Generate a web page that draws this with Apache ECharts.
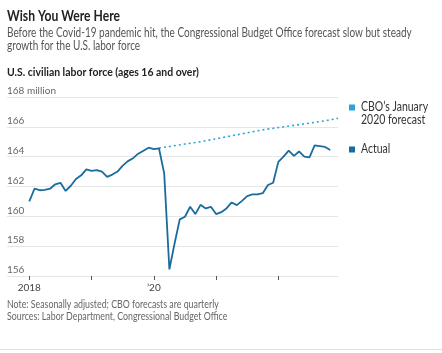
<!DOCTYPE html>
<html>
<head>
<meta charset="utf-8">
<script src="https://cdn.jsdelivr.net/npm/echarts@6/dist/echarts.min.js"></script>
<style>
  html, body { margin: 0; padding: 0; background: #fff; }
  #chart { width: 442px; height: 353px; }
</style>
</head>
<body>
<div id="chart"></div>
<script>
// civilian labor force, millions, monthly Jan 2018 .. Nov 2022
const actual = [
  161.0, 161.85, 161.75, 161.78, 161.85, 162.15, 162.25, 161.7, 162.05, 162.5, 162.75, 163.15,
  163.05, 163.1, 163.0, 162.65, 162.8, 163.0, 163.4, 163.7, 163.9, 164.2, 164.4, 164.6,
  164.5, 164.55, 162.88, 156.44, 158.18, 159.8, 159.97, 160.64, 160.15, 160.77, 160.53, 160.64,
  160.15, 160.28, 160.53, 160.93, 160.75, 161.04, 161.36, 161.47, 161.47, 161.55, 162.1, 162.25,
  163.65, 164.0, 164.4, 164.05, 164.35, 164.0, 163.95, 164.75, 164.7, 164.65, 164.45
];
// CBO forecast (quarterly), month offset from Jan 2018
const forecastMonths = [25, 27, 30, 33, 36, 39, 42, 45, 48, 51, 54, 57, 59.5];
const forecastValues = [164.58, 164.68, 164.85, 165.0, 165.2, 165.4, 165.6, 165.8, 165.95, 166.1, 166.25, 166.4, 166.57];
const yearTicks = [0, 12, 24, 36, 48];
const yearLabels = { 0: '2018', 24: '\u201920' };

const FONT = 'Lato, "Liberation Sans", Arial, sans-serif';
const BLUE_DARK = '#1a6b9e';
const BLUE_LIGHT = '#2ea3da';

// narrow-looking text: Lato squeezed horizontally
function label(x, y, text, size, color, weight, sx) {
  return {
    type: 'text', x: x, y: y, scaleX: sx, silent: true,
    style: { text: text, fill: color, font: (weight || 'normal') + ' ' + size + 'px ' + FONT,
             align: 'left', verticalAlign: 'middle' }
  };
}

const chart = echarts.init(document.getElementById('chart'), null, { renderer: 'canvas' });

chart.setOption({
  backgroundColor: '#fff',
  animation: false,
  textStyle: { fontFamily: FONT },
  grid: { left: 7, right: 104, top: 97, bottom: 77 },
  xAxis: {
    type: 'value', min: -4.3, max: 59.5,
    axisLine: { show: false },
    splitLine: { show: false },
    axisTick: { show: true, customValues: yearTicks, length: 4, lineStyle: { color: '#555' } },
    axisLabel: {
      customValues: [0, 24], margin: 7, color: '#444', fontSize: 10, fontFamily: FONT,
      formatter: v => yearLabels[v] || ''
    }
  },
  yAxis: {
    type: 'value', min: 156, max: 168, interval: 2,
    axisLine: { show: false },
    axisTick: { show: false },
    splitLine: { lineStyle: { color: '#e6e6e6', width: 1 } },
    axisLabel: {
      inside: true, margin: 0, verticalAlign: 'bottom', padding: [0, 0, 1, 0],
      color: '#666', fontSize: 10, fontFamily: FONT,
      formatter: v => v === 168 ? '168 million' : String(v)
    }
  },
  series: [
    {
      name: "CBO\u2019s January 2020 forecast", type: 'line', symbol: 'none',
      data: forecastMonths.map((m, i) => [m, forecastValues[i]]),
      lineStyle: { color: BLUE_LIGHT, width: 1.6, type: [2, 3] },
      itemStyle: { color: BLUE_LIGHT }
    },
    {
      name: 'Actual', type: 'line', symbol: 'none',
      data: actual.map((v, i) => [i, v]),
      lineStyle: { color: BLUE_DARK, width: 1.8 },
      itemStyle: { color: BLUE_DARK }
    }
  ],
  graphic: [
    label(7, 16, 'Wish You Were Here', 15, '#222', 'bold', 0.81),
    label(7, 33, 'Before the Covid-19 pandemic hit, the Congressional Budget Office forecast slow but steady', 12.5, '#555', 'normal', 0.8),
    label(7, 46, 'growth for the U.S. labor force', 12.5, '#555', 'normal', 0.8),
    label(7, 72, 'U.S. civilian labor force (ages 16 and over)', 12, '#222', 'bold', 0.87),
    label(7, 305, 'Note: Seasonally adjusted; CBO forecasts are quarterly', 10.5, '#666', 'normal', 0.84),
    label(7, 317, 'Sources: Labor Department, Congressional Budget Office', 10.5, '#666', 'normal', 0.84),
    { type: 'rect', x: 349, y: 104.5, shape: { width: 6, height: 6 }, style: { fill: BLUE_LIGHT } },
    label(361, 107, 'CBO\u2019s January', 12.5, '#333', 'normal', 0.84),
    label(361, 120, '2020 forecast', 12.5, '#333', 'normal', 0.84),
    { type: 'rect', x: 349, y: 146.5, shape: { width: 6, height: 6 }, style: { fill: BLUE_DARK } },
    label(361, 149, 'Actual', 12.5, '#333', 'normal', 0.84),
    { type: 'rect', x: 0, y: 349, shape: { width: 442, height: 1 }, style: { fill: '#e0e0e0' } }
  ]
});
</script>
</body>
</html>
